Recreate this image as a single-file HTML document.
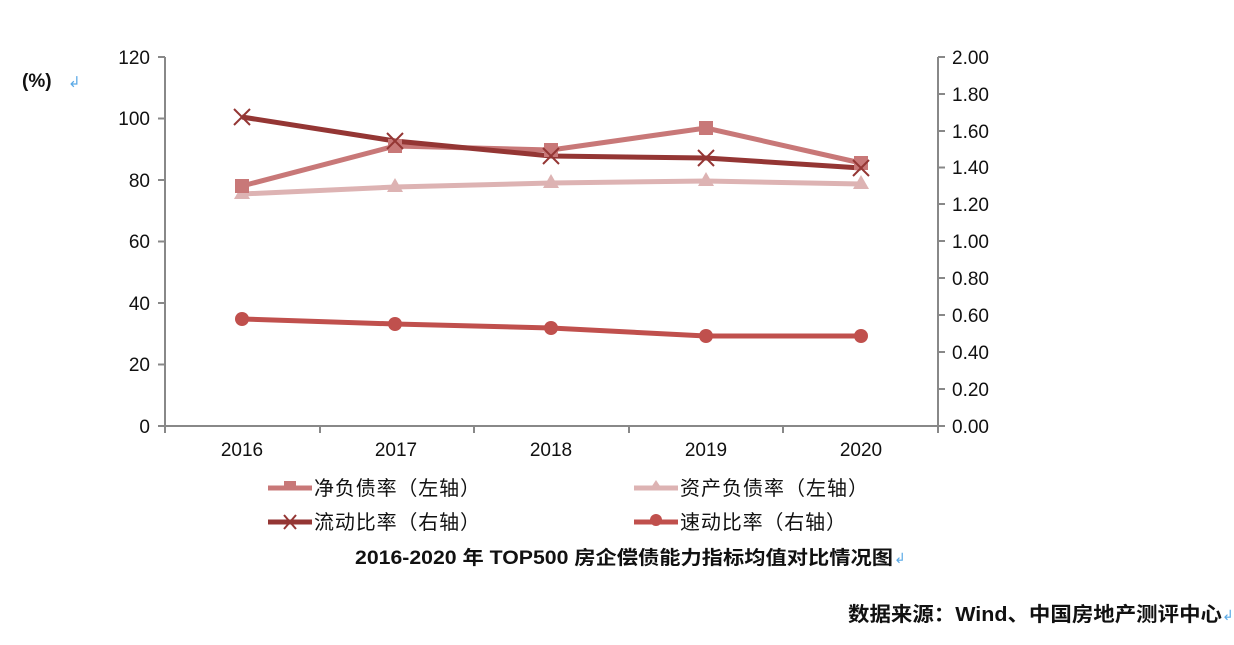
<!DOCTYPE html>
<html><head><meta charset="utf-8"><style>
body{margin:0;background:#fff;width:1234px;height:640px;overflow:hidden}
text{font-family:"Liberation Sans","Noto Sans CJK SC",sans-serif}
</style></head><body>
<svg width="1234" height="640" viewBox="0 0 1234 640">
<g stroke="#888" stroke-width="2" fill="none">
<line x1="165" y1="57" x2="165" y2="426"/>
<line x1="938" y1="57" x2="938" y2="426"/>
<line x1="165" y1="426" x2="938" y2="426"/>
<path d="M158 57H165M158 118.5H165M158 180H165M158 241.5H165M158 303H165M158 364.5H165M158 426H165"/>
<path d="M938 57H945M938 94H945M938 131H945M938 167.5H945M938 204H945M938 241H945M938 278H945M938 315H945M938 352H945M938 389H945M938 426H945"/>
<path d="M165 426V433M320 426V433M474 426V433M629 426V433M783 426V433M938 426V433"/>
</g>
<g font-size="19" fill="#111" text-anchor="end">
<text x="150" y="64">120</text><text x="150" y="125">100</text><text x="150" y="187">80</text><text x="150" y="248">60</text><text x="150" y="310">40</text><text x="150" y="371">20</text><text x="150" y="433">0</text>
</g>
<g font-size="19" fill="#111">
<text x="952" y="64">2.00</text><text x="952" y="101">1.80</text><text x="952" y="138">1.60</text><text x="952" y="174">1.40</text><text x="952" y="211">1.20</text><text x="952" y="248">1.00</text><text x="952" y="285">0.80</text><text x="952" y="322">0.60</text><text x="952" y="359">0.40</text><text x="952" y="396">0.20</text><text x="952" y="433">0.00</text>
</g>
<g font-size="19" fill="#111" text-anchor="middle">
<text x="242" y="456">2016</text><text x="396" y="456">2017</text><text x="551" y="456">2018</text><text x="706" y="456">2019</text><text x="861" y="456">2020</text>
</g>
<text x="22" y="87" font-size="19" font-weight="bold" fill="#111">(%)</text>
<text x="68" y="87" font-size="15" fill="#5aa9e6">↲</text>
<g fill="none" stroke-width="5" stroke-linejoin="round">
<polyline stroke="#ddb3b3" points="242,194 395,187 551,183 706,181 861,184"/>
<polyline stroke="#c87878" points="242,186 395,146 551,150 706,128 861,163"/>
<polyline stroke="#943634" points="242,117 395,141 551,156 706,158 861,168"/>
<polyline stroke="#c0504d" points="242,319 395,324 551,328 706,336 861,336"/>
</g>
<g fill="#ddb3b3"><path d="M242,185l8,14h-16z"/><path d="M395,178l8,14h-16z"/><path d="M551,174l8,14h-16z"/><path d="M706,172l8,14h-16z"/><path d="M861,175l8,14h-16z"/></g>
<g fill="#c87878"><rect x="235" y="179" width="14" height="14"/><rect x="388" y="139" width="14" height="14"/><rect x="544" y="143" width="14" height="14"/><rect x="699" y="121" width="14" height="14"/><rect x="854" y="156" width="14" height="14"/></g>
<g stroke="#943634" stroke-width="2"><path d="M234,109l16,16M250,109l-16,16M387,133l16,16M403,133l-16,16M543,148l16,16M559,148l-16,16M698,150l16,16M714,150l-16,16M853,160l16,16M869,160l-16,16"/></g>
<g fill="#c0504d"><circle cx="242" cy="319" r="7"/><circle cx="395" cy="324" r="7"/><circle cx="551" cy="328" r="7"/><circle cx="706" cy="336" r="7"/><circle cx="861" cy="336" r="7"/></g>
<g stroke-width="5">
<line x1="268" y1="488" x2="312" y2="488" stroke="#c87878"/><rect x="284" y="481" width="12" height="9" fill="#c87878"/>
<line x1="634" y1="488" x2="678" y2="488" stroke="#ddb3b3"/><path d="M656,480l6,9h-12z" fill="#ddb3b3"/>
<line x1="268" y1="522" x2="312" y2="522" stroke="#943634"/><path d="M284,515l12,14M296,515l-12,14" stroke="#943634" stroke-width="2"/>
<line x1="634" y1="522" x2="678" y2="522" stroke="#c0504d"/><circle cx="656" cy="520" r="6" fill="#c0504d"/>
</g>
<g font-size="20" fill="#111">
<text x="314" y="495" textLength="166">净负债率（左轴）</text><text x="680" y="495" textLength="188">资产负债率（左轴）</text>
<text x="314" y="529" textLength="166">流动比率（右轴）</text><text x="680" y="529" textLength="166">速动比率（右轴）</text>
</g>
<text x="355" y="564" font-size="19" font-weight="bold" fill="#111" textLength="538" lengthAdjust="spacingAndGlyphs">2016-2020 年 TOP500 房企偿债能力指标均值对比情况图</text>
<text x="894" y="563" font-size="14" fill="#5aa9e6">↲</text>
<text x="848" y="621" font-size="20" font-weight="bold" fill="#111" textLength="374" lengthAdjust="spacingAndGlyphs">数据来源：Wind、中国房地产测评中心</text>
<text x="1222" y="620" font-size="14" fill="#5aa9e6">↲</text>
</svg>
</body></html>
